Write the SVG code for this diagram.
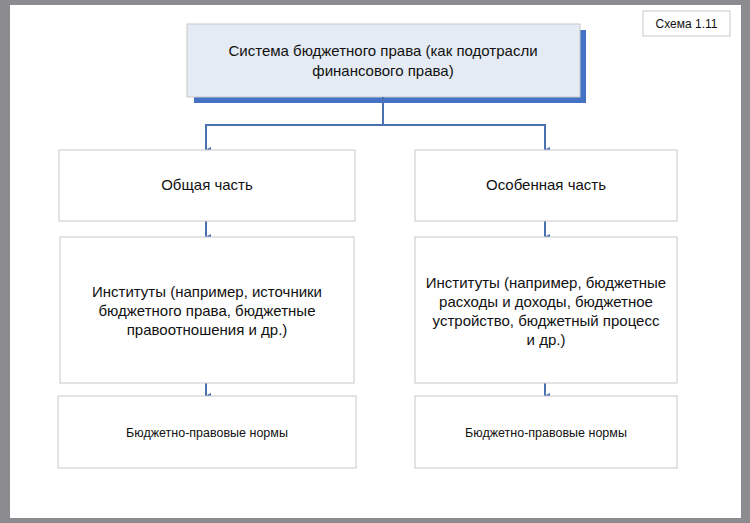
<svg xmlns="http://www.w3.org/2000/svg" width="750" height="523" viewBox="0 0 750 523">
<defs>
<style>
.b{fill:#fff;stroke:#c8c8c8;stroke-width:1}
.t{font-family:"Liberation Sans",Arial,sans-serif;fill:#111;text-anchor:middle}
.c{stroke:#4a72b0;stroke-width:2;fill:none}
</style>
<marker id="a" markerWidth="6" markerHeight="6" refX="3" refY="5" orient="auto" markerUnits="userSpaceOnUse"><path d="M0,0 L6,0 L3,6 Z" fill="#4a72b0"/></marker>
</defs>
<rect width="750" height="523" fill="#8c8c90"/>
<rect x="10" y="5" width="731" height="513" fill="#fff"/>
<g id="schema"><rect class="b" x="643" y="11" width="87" height="25"/><text class="t" x="686.5" y="28" font-size="12">Схема 1.11</text></g>
<g id="root"><rect x="194" y="30" width="392" height="73" fill="#4472c4"/><rect x="187" y="24" width="393" height="73" fill="#e4ebf4" stroke="#c8c8c8"/>
<text class="t" x="383" y="56" font-size="15">Система бюджетного права (как подотрасли</text><text class="t" x="383" y="76" font-size="15">финансового права)</text></g>
<g id="connectors">
<path class="c" d="M383,97 V125 M206,125 H545"/>
<path class="c" d="M206,124 V150" marker-end="url(#a)"/>
<path class="c" d="M545,124 V150" marker-end="url(#a)"/>
<path class="c" d="M206,221 V237" marker-end="url(#a)"/>
<path class="c" d="M545,221 V237" marker-end="url(#a)"/>
<path class="c" d="M206,383 V396" marker-end="url(#a)"/>
<path class="c" d="M545,383 V396" marker-end="url(#a)"/>
</g>
<g id="general"><rect class="b" x="59" y="150" width="296" height="71"/><text class="t" x="207" y="190" font-size="15">Общая часть</text></g>
<g id="special"><rect class="b" x="415" y="150" width="262" height="71"/><text class="t" x="546" y="190" font-size="15">Особенная часть</text></g>
<g id="inst1"><rect class="b" x="60" y="237" width="294" height="146"/>
<text class="t" x="207" y="297" font-size="15">Институты (например, источники</text><text class="t" x="207" y="316" font-size="15">бюджетного права, бюджетные</text><text class="t" x="207" y="335" font-size="15">правоотношения и  др.)</text></g>
<g id="inst2"><rect class="b" x="415" y="237" width="262" height="146"/>
<text class="t" x="546" y="288" font-size="15">Институты (например, бюджетные</text><text class="t" x="546" y="307" font-size="15">расходы и доходы,  бюджетное</text><text class="t" x="546" y="326" font-size="15">устройство, бюджетный процесс</text><text class="t" x="546" y="345" font-size="15">и  др.)</text></g>
<g id="norms1"><rect class="b" x="58" y="396" width="298" height="72"/><text class="t" x="207" y="437" font-size="12.5">Бюджетно-правовые нормы</text></g>
<g id="norms2"><rect class="b" x="415" y="396" width="262" height="72"/><text class="t" x="546" y="437" font-size="12.5">Бюджетно-правовые нормы</text></g>
</svg>
